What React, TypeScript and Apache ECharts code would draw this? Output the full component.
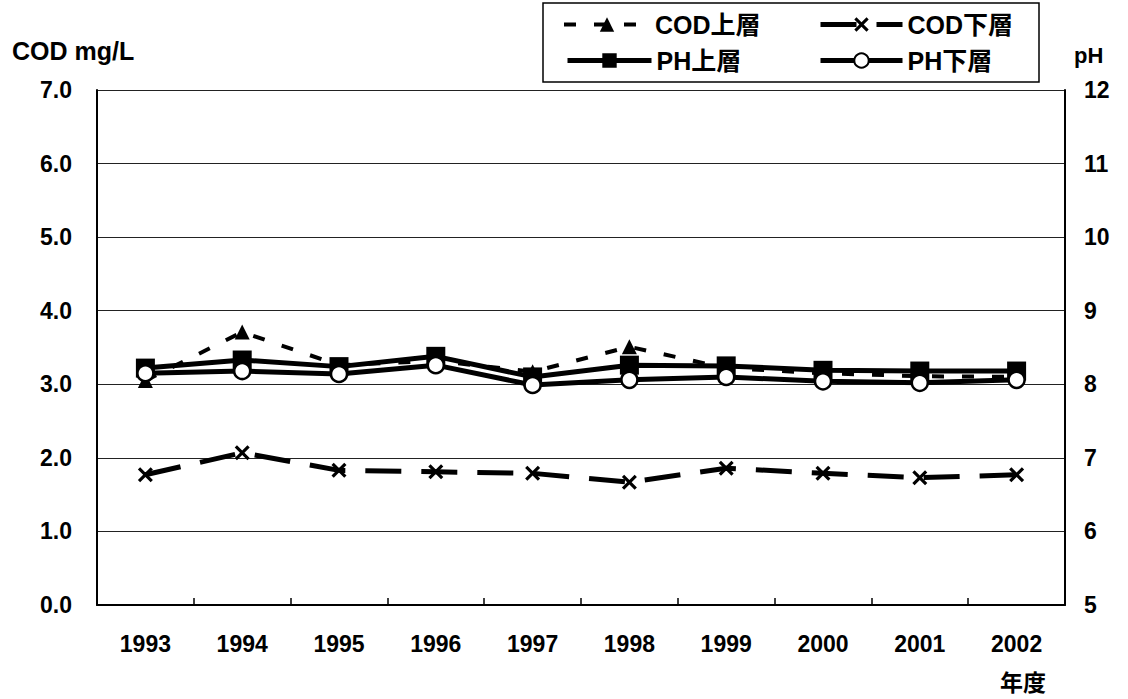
import React, { useEffect, useRef } from "react";
import * as echarts from "echarts";

const years = ["1993", "1994", "1995", "1996", "1997", "1998", "1999", "2000", "2001", "2002"];
const codUpper = [3.05, 3.71, 3.26, 3.32, 3.17, 3.51, 3.22, 3.15, 3.11, 3.1];
const codLower = [1.77, 2.07, 1.83, 1.81, 1.79, 1.67, 1.86, 1.79, 1.73, 1.77];
const phUpper = [8.22, 8.33, 8.24, 8.38, 8.1, 8.26, 8.25, 8.19, 8.18, 8.18];
const phLower = [8.15, 8.18, 8.14, 8.26, 7.99, 8.06, 8.1, 8.04, 8.02, 8.06];

const NUM_FONT = "'Liberation Sans', Arial, sans-serif";
const JP_FONT = "'Liberation Sans', 'Noto Sans CJK JP', sans-serif";
const X_PATH =
  "path://M3,0 L10,7 L17,0 L20,3 L13,10 L20,17 L17,20 L10,13 L3,20 L0,17 L7,10 L0,3 Z";

export default function App() {
  const ref = useRef<HTMLDivElement>(null);
  useEffect(() => {
    if (!ref.current) return;
    const chart = echarts.init(ref.current, undefined, { renderer: "svg" });
    const legendText = {
      fontFamily: JP_FONT,
      fontWeight: "bold",
      fontSize: 25,
      color: "#000",
    };
    const mkLegend = (name: string, left: number, top: number, w: number, lw: number) => ({
      data: [name],
      left,
      top,
      itemWidth: w,
      itemHeight: 18,
      itemGap: 0,
      padding: 0,
      textStyle: legendText,
      lineStyle: { width: lw },
      selectedMode: false,
    });
    const axisFont = { fontFamily: NUM_FONT, fontWeight: "bold", fontSize: 23, color: "#000" };
    chart.setOption({
      animation: false,
      backgroundColor: "#fff",
      legend: [
        mkLegend("COD上層", 562, 12, 86, 4),
        mkLegend("COD下層", 818, 12, 82, 5),
        mkLegend("PH上層", 565, 48, 84, 5),
        mkLegend("PH下層", 818, 48, 82, 5),
      ],
      graphic: [
        {
          type: "rect",
          shape: { x: 543, y: 3, width: 496, height: 79 },
          style: { fill: "none", stroke: "#000", lineWidth: 1.5 },
          z: 10,
        },
        {
          type: "text",
          left: 12,
          top: 38,
          style: { text: "COD mg/L", font: `bold 25px ${NUM_FONT}`, fill: "#000" },
        },
        {
          type: "text",
          left: 1074,
          top: 44,
          style: { text: "pH", font: `bold 22px ${NUM_FONT}`, fill: "#000" },
        },
        {
          type: "text",
          left: 1000,
          top: 669,
          style: { text: "年度", font: `bold 23px 'Noto Sans CJK JP', sans-serif`, fill: "#000" },
        },
      ],
      grid: { left: 97, right: 63, top: 90, bottom: 94, containLabel: false },
      xAxis: {
        type: "category",
        data: years,
        boundaryGap: true,
        axisLine: { show: true, lineStyle: { color: "#000", width: 2 } },
        axisTick: { show: true, inside: true, length: 7, alignWithLabel: false, lineStyle: { color: "#000", width: 1.5 } },
        axisLabel: { margin: 27, ...axisFont },
      },
      yAxis: [
        {
          type: "value",
          min: 0,
          max: 7,
          interval: 1,
          axisLine: { show: true, lineStyle: { color: "#000", width: 2 } },
          axisTick: { show: false },
          splitLine: { show: true, lineStyle: { color: "#222", width: 1 } },
          axisLabel: {
            margin: 25,
            formatter: (v: number) => v.toFixed(1),
            ...axisFont,
          },
        },
        {
          type: "value",
          min: 5,
          max: 12,
          interval: 1,
          position: "right",
          axisLine: { show: true, lineStyle: { color: "#000", width: 2 } },
          axisTick: { show: false },
          splitLine: { show: false },
          axisLabel: { margin: 19, ...axisFont },
        },
      ],
      series: [
        {
          name: "COD上層",
          type: "line",
          yAxisIndex: 0,
          data: codUpper,
          symbol: "triangle",
          symbolSize: 15,
          itemStyle: { color: "#000" },
          lineStyle: { color: "#000", width: 4, type: [12, 18] },
          z: 2,
        },
        {
          name: "COD下層",
          type: "line",
          yAxisIndex: 0,
          data: codLower,
          symbol: X_PATH,
          symbolSize: 15,
          itemStyle: { color: "#000" },
          lineStyle: { color: "#000", width: 5, type: [36, 20] },
          z: 2,
        },
        {
          name: "PH上層",
          type: "line",
          yAxisIndex: 1,
          data: phUpper,
          symbol: "rect",
          symbolSize: 19,
          itemStyle: { color: "#000" },
          lineStyle: { color: "#000", width: 5 },
          z: 3,
        },
        {
          name: "PH下層",
          type: "line",
          yAxisIndex: 1,
          data: phLower,
          symbol: "circle",
          symbolSize: 16,
          itemStyle: { color: "#fff", borderColor: "#000", borderWidth: 2.5 },
          lineStyle: { color: "#000", width: 5 },
          z: 4,
        },
      ],
    });
    return () => chart.dispose();
  }, []);
  return (
    <div
      ref={ref}
      style={{ position: "fixed", left: 0, top: 0, width: 1128, height: 699, background: "#fff" }}
    />
  );
}
